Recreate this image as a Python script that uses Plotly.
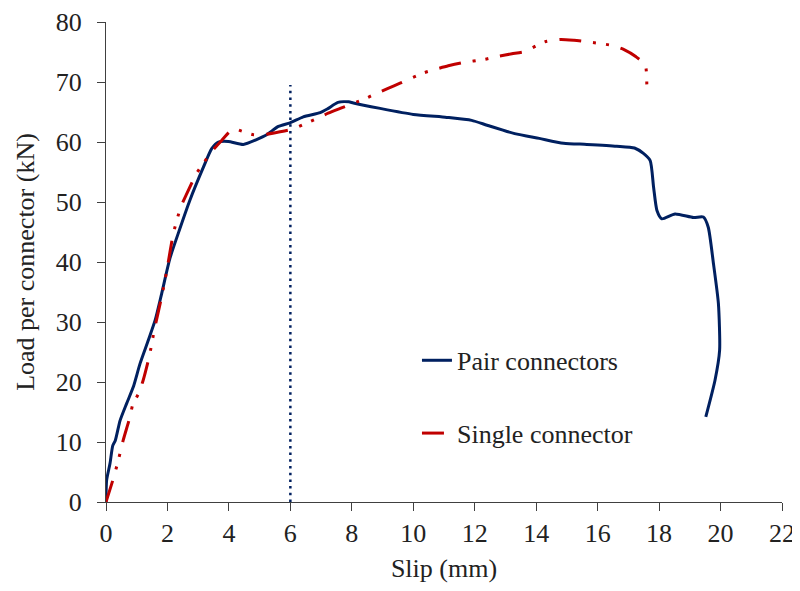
import plotly.graph_objects as go

# Pair connectors (slip mm, load kN)
pair_x = [0, 0.02, 0.13, 0.22, 0.3, 0.46, 0.67, 0.89, 1.11, 1.38, 1.6, 1.81, 2.08, 2.4, 2.73,
          3.17, 3.44, 3.66, 3.98, 4.47, 4.9, 5.23, 5.61, 5.99, 6.42, 6.97, 7.2, 7.55, 7.9,
          8.05, 8.92, 10.0, 11.09, 11.9, 12.4, 13.3, 14.1, 14.89, 15.65, 16.62, 17.2, 17.49,
          17.71, 17.82, 17.93, 18.09, 18.52, 19.12, 19.44, 19.6, 19.77, 19.93, 19.97, 19.82, 19.52]
pair_y = [0, 3.6, 6.4, 9.4, 10.2, 13.6, 16.4, 19.2, 23.1, 27, 30.3, 34.7, 40.6, 45.5, 50.3,
          55.8, 58.9, 60, 60.1, 59.6, 60.4, 61.2, 62.6, 63.2, 64.2, 64.9, 65.5, 66.6, 66.7,
          66.5, 65.6, 64.6, 64.1, 63.6, 62.8, 61.4, 60.6, 59.8, 59.6, 59.3, 59.0, 58.1,
          56.9, 52.5, 48.6, 47.2, 48.0, 47.4, 47.5, 45.8, 39.7, 33.1, 25.3, 20.3, 14.2]

# Single connector
single_x = [0, 0.22, 0.35, 0.46, 0.56, 0.78, 0.87, 1.07, 1.21, 1.41, 1.57, 1.81, 1.98, 2.19,
            2.43, 2.63, 2.95, 3.19, 3.44, 3.77, 4.14, 4.42, 4.8, 5.23, 5.66, 6.1, 6.42, 6.82,
            7.23, 7.62, 8.38, 8.76, 9.16, 9.57, 10.33, 10.71, 11.14, 11.58, 12.34, 12.77,
            13.21, 13.64, 14.13, 14.35, 14.8, 15.23, 15.65, 16.46, 16.86, 17.25, 17.55, 17.6]
single_y = [0, 3.6, 5.95, 8.2, 10.3, 14.2, 16.2, 18.2, 20.3, 24.3, 28.6, 34.2, 38.6, 44.7,
            49.1, 51.4, 54.8, 56.6, 58.4, 60.3, 62.2, 61.8, 61.2, 61.3, 61.7, 62.2, 62.9, 63.8,
            64.8, 65.6, 67.1, 68, 68.9, 69.8, 71.5, 72.1, 72.7, 73.2, 73.8, 74.3,
            74.7, 75.1, 76.4, 76.8, 77.1, 76.95, 76.7, 76.1, 75.4, 74.2, 72.8, 68.6]

# Reference vertical line at 6 mm slip
ref_x = [6, 6]
ref_y = [0, 69.5]

x_ticks = [0, 2, 4, 6, 8, 10, 12, 14, 16, 18, 20, 22]
y_ticks = [0, 10, 20, 30, 40, 50, 60, 70, 80]

BLUE = "#002060"
RED = "#C00000"
FONT = "Liberation Serif, Times New Roman, serif"

fig = go.Figure()
fig.add_trace(go.Scatter(x=pair_x, y=pair_y, mode="lines", name="Pair connectors",
                         legendgroup="a",
                         line=dict(color=BLUE, width=3, shape="spline", smoothing=0.6)))
fig.add_trace(go.Scatter(x=single_x, y=single_y, mode="lines", name="Single connector",
                         legendgroup="b",
                         line=dict(color=RED, width=3, shape="spline", smoothing=0.6,
                                   dash="22px,12px,3px,10px,3px,12px")))
fig.add_trace(go.Scatter(x=ref_x, y=ref_y, mode="lines", showlegend=False,
                         line=dict(color=BLUE, width=2.5, dash="2.5px,4.2px")))

axis_common = dict(showgrid=False, zeroline=False, showline=True, linecolor="#404040",
                   linewidth=1.3, ticks="outside", ticklen=8, tickwidth=1.3,
                   tickcolor="#404040", tickfont=dict(family=FONT, size=26, color="#222222"),
                   title_font=dict(family=FONT, size=26, color="#222222"),
                   automargin=False, ticklabeloverflow="allow")

fig.update_xaxes(range=[0, 22], tickvals=x_ticks, title_text="Slip (mm)",
                 ticklabelstandoff=0, title_standoff=11, **axis_common)
fig.update_yaxes(range=[0, 80], tickvals=y_ticks, title_text="Load per connector (kN)",
                 ticklabelstandoff=10, title_standoff=13, **axis_common)

# page body adds an 8px offset, so the figure is sized 792x583
fig.update_layout(
    width=792, height=583,
    margin=dict(l=98, r=18, t=14, b=89),
    plot_bgcolor="white", paper_bgcolor="white",
    font=dict(family=FONT, size=26, color="#222222"),
    legend=dict(x=0.460, y=0.344, xanchor="left", yanchor="top",
                bgcolor="rgba(0,0,0,0)", tracegroupgap=36,
                font=dict(family=FONT, size=26, color="#222222")),
    showlegend=True,
)

fig.write_html("out.html",
               post_script="document.documentElement.style.overflow='hidden';"
                           "document.body.style.overflow='hidden';")
